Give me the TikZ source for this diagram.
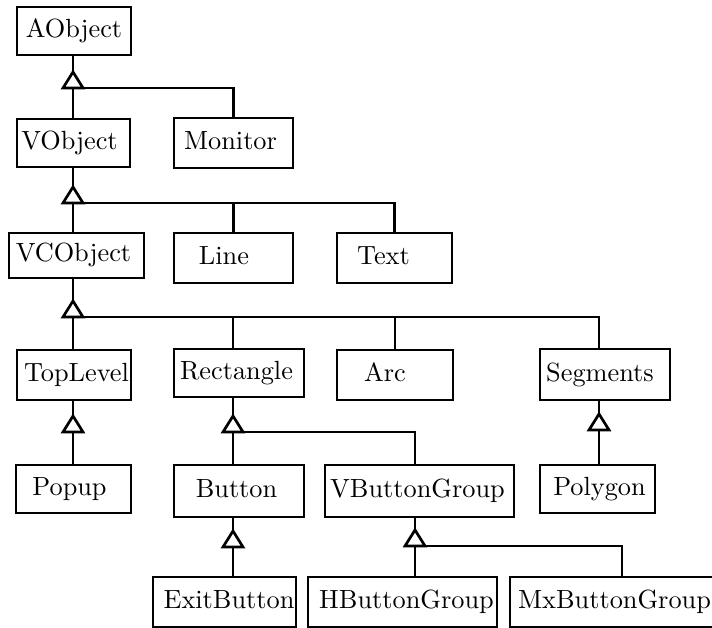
\documentclass[tikz,border=0pt]{standalone}
\usepackage{fontspec}
\newfontfamily\cmten[Extension=.otf]{lmroman10-regular}
\usetikzlibrary{calc}
\begin{document}
\begin{tikzpicture}[x=1pt,y=-1pt,line width=2.7pt,
  cls/.style={draw, inner sep=0pt, font=\cmten\fontsize{26.3}{31}\selectfont,
    text height=18pt, text depth=5pt},
  tri/.pic={\draw[fill=white, line join=miter] (0,0) -- (-10,16) -- (10,16) -- cycle;}]
\useasboundingbox[fill=white] (0,0) rectangle (712,628);

% classes
\node[cls, minimum width=114, minimum height=48] (AObject) at (74,31) {AObject};
\node[cls, minimum width=113, minimum height=48] (VObject) at (73.5,143) {VObject\hspace*{8pt}};
\node[cls, minimum width=119, minimum height=50] (Monitor) at (233.5,143) {Monitor\hspace*{6pt}};
\node[cls, minimum width=135, minimum height=45] (VCObject) at (76.5,255.5) {VCObject\hspace*{6pt}};
\node[cls, minimum width=119, minimum height=50] (Line) at (233.5,258) {Line\hspace*{19pt}};
\node[cls, minimum width=115, minimum height=50] (Text) at (394.5,258) {Text\hspace*{22pt}};
\node[cls, minimum width=114, minimum height=50] (TopLevel) at (74,375) {\hspace*{5pt}TopLevel};
\node[cls, minimum width=130, minimum height=48] (Rectangle) at (239,373) {Rectangle\hspace*{5pt}};
\node[cls, minimum width=116, minimum height=50] (Arc) at (395,375) {Arc\hspace*{20pt}};
\node[cls, minimum width=130, minimum height=51] (Segments) at (605,374.5) {Segments\hspace*{10pt}};
\node[cls, minimum width=115, minimum height=48] (Popup) at (73.5,489) {Popup\hspace*{8pt}};
\node[cls, minimum width=130, minimum height=52] (Button) at (239,491) {Button\hspace*{5pt}};
\node[cls, minimum width=189, minimum height=52] (VButtonGroup) at (419.5,491) {VButtonGroup\hspace*{4pt}};
\node[cls, minimum width=115, minimum height=48] (Polygon) at (597.5,489) {\hspace*{4pt}Polygon};
\node[cls, minimum width=143, minimum height=50] (ExitButton) at (224.5,602) {\hspace*{9pt}ExitButton};
\node[cls, minimum width=189, minimum height=50] (HButtonGroup) at (402.5,602) {\hspace*{8pt}HButtonGroup};
\node[cls, minimum width=203, minimum height=50] (MxButtonGroup) at (611.5,602) {\hspace*{6pt}MxButtonGroup};

% triangle apexes (a) and base centres (b)
\coordinate (a1) at (73,72);   \coordinate (b1) at (73,88);
\coordinate (a2) at (73,187);  \coordinate (b2) at (73,203);
\coordinate (a3) at (73,301);  \coordinate (b3) at (73,317);
\coordinate (a4) at (233,416); \coordinate (b4) at (233,432);
\coordinate (a5) at (73,416);  \coordinate (b5) at (73,432);
\coordinate (a6) at (599,414); \coordinate (b6) at (599,430);
\coordinate (a7) at (233,531); \coordinate (b7) at (233,547);
\coordinate (a8) at (415,530); \coordinate (b8) at (415,546);
\coordinate (mx) at ($(MxButtonGroup.north)+(10.5,0)$);

% AObject
\draw (a1 |- AObject.south) -- (a1);
\draw (b1) -- (b1 |- VObject.north);
\draw (b1) -| (Monitor.north);
\pic at (a1) {tri};
% VObject
\draw (a2 |- VObject.south) -- (a2);
\draw (b2) -- (b2 |- VCObject.north);
\draw (b2) -| (Line.north);
\draw (b2) -| (Text.north);
\pic at (a2) {tri};
% VCObject
\draw (a3 |- VCObject.south) -- (a3);
\draw (b3) -- (b3 |- TopLevel.north);
\draw (b3) -| (a4 |- Rectangle.north);
\draw (b3) -| (Arc.north);
\draw (b3) -| (a6 |- Segments.north);
\pic at (a3) {tri};
% TopLevel
\draw (a5 |- TopLevel.south) -- (a5);
\draw (b5) -- (b5 |- Popup.north);
\pic at (a5) {tri};
% Rectangle
\draw (a4 |- Rectangle.south) -- (a4);
\draw (b4) -- (b4 |- Button.north);
\draw (b4) -| (a8 |- VButtonGroup.north);
\pic at (a4) {tri};
% Segments
\draw (a6 |- Segments.south) -- (a6);
\draw (b6) -- (b6 |- Polygon.north);
\pic at (a6) {tri};
% Button
\draw (a7 |- Button.south) -- (a7);
\draw (b7) -- (b7 |- ExitButton.north);
\pic at (a7) {tri};
% VButtonGroup
\draw (a8 |- VButtonGroup.south) -- (a8);
\draw (b8) -- (b8 |- HButtonGroup.north);
\draw (b8) -| (mx);
\pic at (a8) {tri};
\end{tikzpicture}
\end{document}
